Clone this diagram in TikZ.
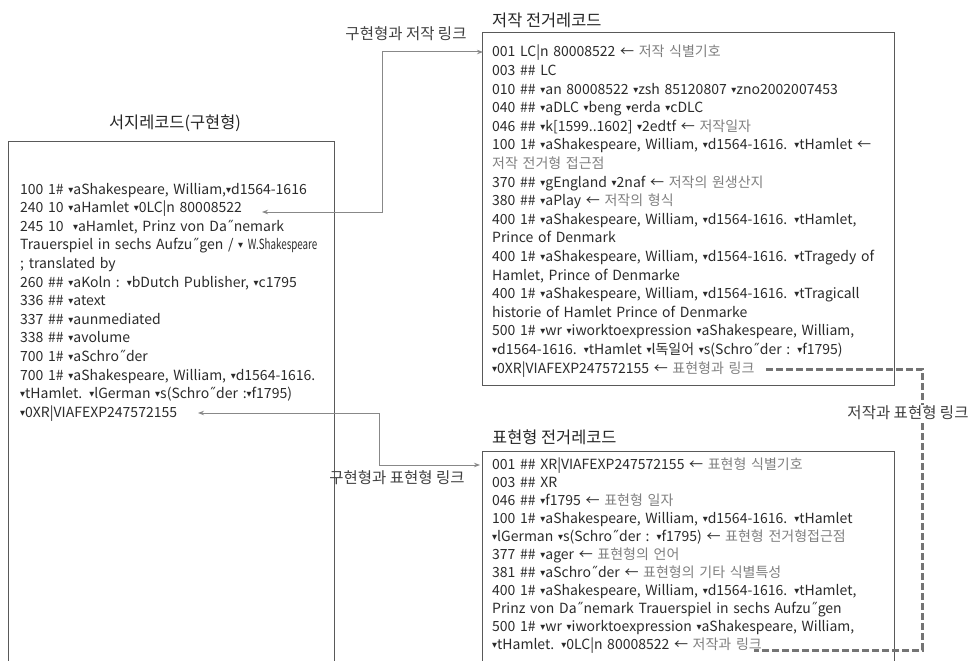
\documentclass[tikz,border=0pt]{standalone}
\usepackage{fontspec}
\usepackage{graphicx}
\setmainfont{Noto Sans CJK KR}
\newfontfamily\symfont{DejaVu Sans}
\usetikzlibrary{arrows.meta}
\definecolor{txtgray}{HTML}{2B2B2B}
\definecolor{notegray}{HTML}{7F7F7F}
\definecolor{linkgray}{HTML}{888888}
\definecolor{dashgray}{HTML}{747474}
\newcommand\tri{\raisebox{2pt}{\symfont\fontsize{6.5}{6.5}\selectfont ▼}}
\newcommand\dq{{\symfont ˝}}
\newcommand\nt[1]{\textcolor{notegray}{#1}}
\tikzset{
  rec/.style={anchor=base west,inner sep=0pt,text width=420pt,align=left,
    text=txtgray,font=\fontsize{14}{18.6}\selectfont},
  box/.style={draw=black!65,line width=0.8pt},
  title/.style={inner sep=0pt,text=black!85,font=\fontsize{16.4}{16.4}\selectfont},
  link/.style={draw=linkgray,line width=1pt},
  dashlink/.style={draw=dashgray,line width=3pt,dash pattern=on 7pt off 3pt},
  linklabel/.style={inner sep=1pt,text=black!75,font=\fontsize{15.5}{15.5}\selectfont}
}
\begin{document}
\begin{tikzpicture}[x=1pt,y=-1pt,>={Stealth[length=6pt,width=4.5pt]}]
  \useasboundingbox (0,0) rectangle (970,661);
  % boxes
  \draw[box] (8,141) rectangle (334,680);
  \draw[box] (482,32) rectangle (894,385);
  \draw[box] (482,451) rectangle (894,680);
  % titles
  \node[title] (bibtitle) at (175,123) {서지레코드(구현형)};
  \node[title,anchor=west] (worktitle) at (492,20) {저작 전거레코드};
  \node[title,anchor=west] (exprtitle) at (492,437) {표현형 전거레코드};
  % records
  \node[rec] (bib) at (20,194) {100 1\# \tri aShakespeare, William,\tri d1564-1616\\
    240 10 \tri aHamlet \tri 0LC|n 80008522\\
    245 10 \ \tri aHamlet, Prinz von Da\dq nemark\\
    Trauerspiel in sechs Aufzu\dq gen / \tri\ \scalebox{0.7}[1]{W.Shakespeare}\\
    ; translated by\\
    260 \#\# \tri aKoln : \tri bDutch Publisher, \tri c1795\\
    336 \#\# \tri atext\\
    337 \#\# \tri aunmediated\\
    338 \#\# \tri avolume\\
    700 1\# \tri aSchro\dq der\\
    700 1\# \tri aShakespeare, William, \tri d1564-1616.\\
    \tri tHamlet. \tri lGerman \tri s(Schro\dq der :\tri f1795)\\
    \tri 0XR|VIAFEXP247572155};
  \node[rec] (work) at (492,57) {001 LC|n 80008522 ← \nt{저작 식별기호}\\
    003 \#\# LC\\
    010 \#\# \tri an 80008522 \tri zsh 85120807 \tri zno2002007453\\
    040 \#\# \tri aDLC \tri beng \tri erda \tri cDLC\\
    046 \#\# \tri k[1599..1602] \tri 2edtf ← \nt{저작일자}\\
    100 1\# \tri aShakespeare, William, \tri d1564-1616. \tri tHamlet ←\\
    \nt{저작 전거형 접근점}\\
    370 \#\# \tri gEngland \tri 2naf ← \nt{저작의 원생산지}\\
    380 \#\# \tri aPlay ← \nt{저작의 형식}\\
    400 1\# \tri aShakespeare, William, \tri d1564-1616. \tri tHamlet,\\
    Prince of Denmark\\
    400 1\# \tri aShakespeare, William, \tri d1564-1616. \tri tTragedy of\\
    Hamlet, Prince of Denmarke\\
    400 1\# \tri aShakespeare, William, \tri d1564-1616. \tri tTragicall\\
    historie of Hamlet Prince of Denmarke\\
    500 1\# \tri wr \tri iworktoexpression \tri aShakespeare, William,\\
    \tri d1564-1616. \tri tHamlet \tri l독일어 \tri s(Schro\dq der : \tri f1795)\\
    \tri 0XR|VIAFEXP247572155 ← \nt{표현형과 링크}};
  \node[rec,font=\fontsize{14}{18}\selectfont] (expr) at (492,469) {001 \#\# XR|VIAFEXP247572155 ← \nt{표현형 식별기호}\\
    003 \#\# XR\\
    046 \#\# \tri f1795 ← \nt{표현형 일자}\\
    100 1\# \tri aShakespeare, William, \tri d1564-1616. \tri tHamlet\\
    \tri lGerman \tri s(Schro\dq der : \tri f1795) ← \nt{표현형 전거형접근점}\\
    377 \#\# \tri ager ← \nt{표현형의 언어}\\
    381 \#\# \tri aSchro\dq der ← \nt{표현형의 기타 식별특성}\\
    400 1\# \tri aShakespeare, William, \tri d1564-1616. \tri tHamlet,\\
    Prinz von Da\dq nemark Trauerspiel in sechs Aufzu\dq gen\\
    500 1\# \tri wr \tri iworktoexpression \tri aShakespeare, William,\\
    \tri tHamlet. \tri 0LC|n 80008522 ← \nt{저작과 링크}};
  % link ends
  \coordinate (bib240) at (262,212);
  \coordinate (bibxr) at (198,413);
  \coordinate (worklc) at (483,52);
  \coordinate (workxr) at (766,369);
  \coordinate (exprxr) at (480,465);
  \coordinate (exprlc) at (754,650);
  % links
  \draw[link,<->] (bib240) -| (382,52) -- (worklc);
  \node[linklabel] (worklink) at (406,34) {구현형과 저작 링크};
  \draw[link,<->] (bibxr) -| (379,465) -- (exprxr);
  \node[linklabel] (exprlink) at (397,478) {구현형과 표현형 링크};
  \draw[dashlink] (workxr) -| (922,650) -- (exprlc);
  \node[linklabel,fill=white] (wxlink) at (908,413) {저작과 표현형 링크};
\end{tikzpicture}
\end{document}
